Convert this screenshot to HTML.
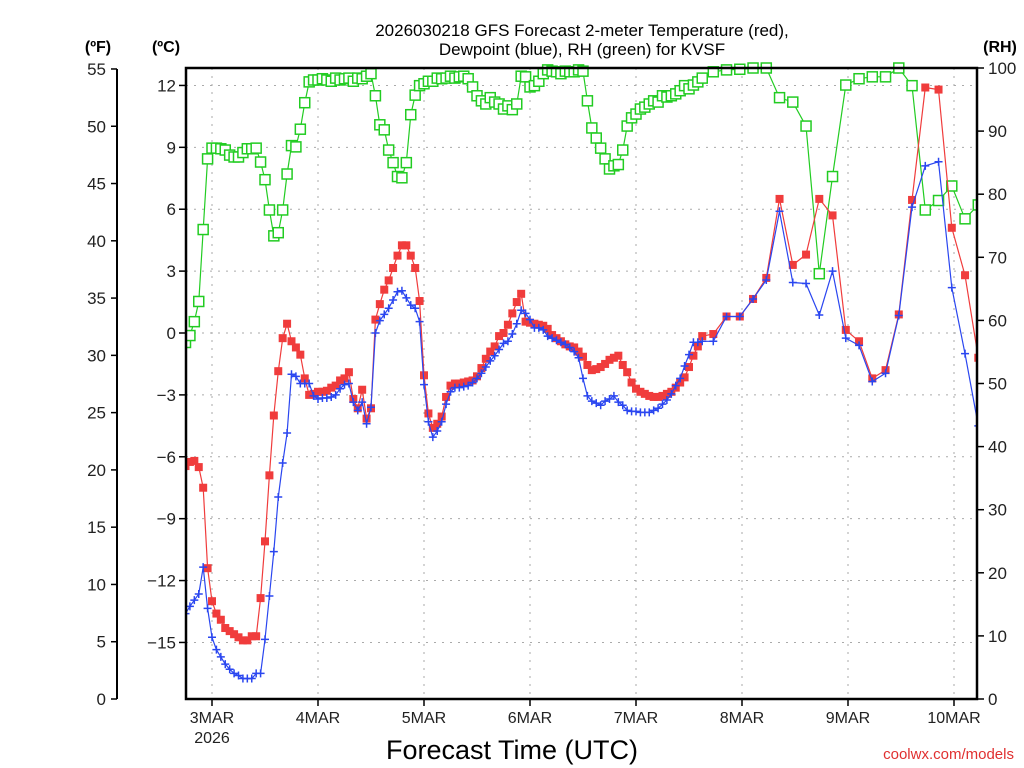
<!DOCTYPE html>
<html><head><meta charset="utf-8"><style>
body{margin:0;background:#fff;}
svg{display:block;font-family:"Liberation Sans",sans-serif;}
</style></head><body>
<svg id="c" width="1024" height="768" viewBox="0 0 1024 768" xmlns="http://www.w3.org/2000/svg">
<text x="582" y="36" font-size="17" text-anchor="middle">2026030218 GFS Forecast 2-meter Temperature (red),</text>
<text x="582" y="55" font-size="17" text-anchor="middle">Dewpoint (blue), RH (green) for KVSF</text>
<text x="98" y="52" font-size="16" font-weight="bold" text-anchor="middle">(ºF)</text>
<text x="166" y="52" font-size="16" font-weight="bold" text-anchor="middle">(ºC)</text>
<text x="1000" y="52" font-size="16" font-weight="bold" text-anchor="middle">(RH)</text>
<text x="512" y="759" font-size="27" text-anchor="middle">Forecast Time (UTC)</text>
<text x="1014" y="759" font-size="15" fill="#e03030" text-anchor="end">coolwx.com/models</text>
<g id="grid"></g><g id="axes"></g><g id="series"></g>
<rect x="186" y="68" width="791" height="631" fill="none" stroke="#000" stroke-width="2.5"/>
</svg>
<script>
// hourly data (hour = index), 0..117
const tempHourly=[-6.45,-6.25,-6.2,-6.5,-7.5,-11.4,-13.0,-13.6,-13.9,-14.3,-14.45,-14.6,-14.75,-14.9,-14.9,-14.7,-14.7,-12.85,-10.1,-6.9,-4.0,-1.85,-0.25,0.45,-0.4,-0.7,-1.05,-2.2,-3.0,-2.95,-2.85,-2.85,-2.8,-2.65,-2.55,-2.3,-2.2,-1.9,-3.2,-3.65,-2.75,-4.15,-3.65,0.65,1.4,2.1,2.55,3.15,3.75,4.25,4.25,3.75,3.15,1.55,-2.05,-3.9,-4.6,-4.4,-4.05,-3.1,-2.55,-2.45,-2.45,-2.4,-2.35,-2.3,-2.1,-1.7,-1.25,-0.9,-0.65,-0.15,0,0.4,0.95,1.5,1.9,0.55,0.5,0.45,0.4,0.35,0.2,-0.1,-0.25,-0.4,-0.55,-0.65,-0.7,-0.9,-1.15,-1.55,-1.8,-1.75,-1.65,-1.5,-1.3,-1.2,-1.1,-1.55,-1.9,-2.4,-2.7,-2.85,-2.95,-3.05,-3.1,-3.1,-3.05,-2.95,-2.85,-2.65,-2.4,-2.15,-1.65,-1.1,-0.65,-0.15];
const dewHourly=[-13.6,-13.25,-12.95,-12.65,-11.35,-13.35,-14.75,-15.35,-15.7,-16.05,-16.3,-16.5,-16.6,-16.75,-16.75,-16.75,-16.5,-16.5,-14.85,-12.75,-10.6,-7.95,-6.3,-4.85,-2.0,-2.1,-2.45,-2.45,-2.45,-3.05,-3.2,-3.15,-3.15,-3.1,-3.0,-2.7,-2.5,-2.45,-3.35,-3.75,-3.35,-4.4,-3.6,0,0.6,0.9,1.2,1.6,2.0,2.05,1.7,1.35,1.2,0.55,-2.5,-4.3,-5.05,-4.75,-4.3,-3.45,-2.85,-2.65,-2.65,-2.6,-2.55,-2.4,-2.2,-1.95,-1.65,-1.35,-1.1,-0.8,-0.5,-0.4,-0.05,0.45,1.1,0.95,0.65,0.25,0.25,0.15,-0.15,-0.25,-0.35,-0.45,-0.55,-0.7,-0.9,-1.2,-2.2,-3.05,-3.3,-3.4,-3.5,-3.3,-3.2,-3.05,-3.35,-3.5,-3.75,-3.8,-3.8,-3.85,-3.85,-3.85,-3.75,-3.65,-3.45,-3.25,-2.95,-2.55,-2.2,-1.6,-1.05,-0.45,-0.45,-0.4];
const rhHourly=[56.5,57.6,59.8,63,74.4,85.6,87.3,87.3,87.2,87,86.2,85.9,85.9,86.6,87.2,87.2,87.3,85.1,82.3,77.5,73.4,73.9,77.5,83.2,87.7,87.5,90.3,94.5,97.8,98.1,98.1,98.3,98.1,97.9,98.4,98.1,98.3,98.4,97.9,98.4,98.3,98.7,99.1,95.6,91,90.2,87,85,82.8,82.6,85,92.6,95.7,97.2,97.5,97.9,97.9,98.4,98.3,98.4,98.7,98.4,98.6,98.7,98.3,97,95.6,94.8,94.3,95.3,94.6,94.3,93.5,94,93.4,94.3,98.7,98.6,97,97.2,97.9,99.1,99.7,99.5,99.4,99.1,99.5,99.4,99.4,99.7,99.5,94.8,90.5,88.9,87.3,85.6,84,84.5,84.7,87,90.8,92.1,92.7,93.5,93.8,94.3,94.8,94.6,95.6,95.4,95.6,95.9,96.4,97.2,96.7,97.3,97.8,98.4];
// 3-hourly data
const hours3=[119.5,122.5,125.5,128.5,131.5,134.5,137.5,140.5,143.5,146.5,149.5,152.5,155.5,158.5,161.5,164.5,167.5,170.5,173.5,176.5,179.5];
const temp3=[-0.05,0.8,0.8,1.65,2.67,6.5,3.3,3.8,6.5,5.7,0.15,-0.4,-2.2,-1.8,0.9,6.45,11.9,11.8,5.1,2.8,-1.2];
const dew3=[-0.4,0.8,0.8,1.65,2.57,5.9,2.45,2.4,0.87,3.0,-0.25,-0.6,-2.35,-1.95,0.85,6.1,8.1,8.3,2.2,-1.0,-4.5];
const rh3=[99.4,99.7,99.8,100,100,95.3,94.6,90.8,67.4,82.8,97.3,98.3,98.6,98.6,100,97.2,77.5,79,81.3,76.1,78.3];
const dayLabels=["3MAR","4MAR","5MAR","6MAR","7MAR","8MAR","9MAR","10MAR"];
const cTicks=[12,9,6,3,0,-3,-6,-9,-12,-15];
const fTicks=[55,50,45,40,35,30,25,20,15,10,5,0];
const rhTicks=[100,90,80,70,60,50,40,30,20,10,0];

const X=h=>185.5+h*106/24;
const YC=c=>333-c*20.63;
const YF=f=>699-f*11.455;
const YR=r=>699-r*6.31;
const NS="http://www.w3.org/2000/svg";
function mk(tag,attrs,parent,txt){const e=document.createElementNS(NS,tag);for(const k in attrs)e.setAttribute(k,attrs[k]);if(txt!==undefined)e.textContent=txt;parent.appendChild(e);return e;}
const grid=document.getElementById('grid'),axes=document.getElementById('axes'),ser=document.getElementById('series');
cTicks.forEach(c=>{
  const y=YC(c);
  const g=mk('line',{x1:186,x2:977,y1:y,y2:y,stroke:'#aaa','stroke-dasharray':'2,6'},grid);
  
  
  const t=mk('line',{x1:179,x2:186,y1:y,y2:y,stroke:'#000','stroke-width':1.5},axes);
  
  
  const l=mk('text',{x:176,y:y+6,'font-size':17,'text-anchor':'end',fill:'#222'},axes,c<0?'\u2212'+(-c):String(c));
  
  
});
mk('line',{x1:117,x2:117,y1:YF(55),y2:699,stroke:'#000','stroke-width':2},axes);
fTicks.forEach(f=>{
  const y=YF(f);
  const t=mk('line',{x1:111,x2:117,y1:y,y2:y,stroke:'#000','stroke-width':1.5},axes);
  
  
  const l=mk('text',{x:106,y:y+6,'font-size':17,'text-anchor':'end',fill:'#222'},axes,String(f));
  
  
});
rhTicks.forEach(r=>{
  const y=YR(r);
  const t=mk('line',{x1:977,x2:984,y1:y,y2:y,stroke:'#000','stroke-width':1.5},axes);
  
  
  const l=mk('text',{x:988,y:y+6,'font-size':17,'text-anchor':'start',fill:'#222'},axes,String(r));
  
  
});
dayLabels.forEach((d,i)=>{
  const x=X(6+24*i);
  const g=mk('line',{x1:x,x2:x,y1:68,y2:699,stroke:'#aaa','stroke-dasharray':'2,6'},grid);
  
  
  const t=mk('line',{x1:x,x2:x,y1:699,y2:706,stroke:'#000','stroke-width':1.5},axes);
  
  
  const l=mk('text',{x:x,y:723,'font-size':16,'text-anchor':'middle',fill:'#222'},axes,d);
  
  
});
const yr=mk('text',{x:X(6),y:743,'font-size':16,'text-anchor':'middle',fill:'#222'},axes,'2026');



const clip=mk('clipPath',{id:'pc'},ser);mk('rect',{x:186,y:62,width:791,height:640},clip);
function series(name,vals,hs,yf,color,marker){
  const g=mk('g',{'clip-path':'url(#pc)'},ser);
  
  
  const pts=vals.map((v,i)=>[X(hs[i]),yf(v)]);
  const p=mk('polyline',{points:pts.map(p=>p[0].toFixed(1)+','+p[1].toFixed(1)).join(' '),fill:'none',stroke:color,'stroke-width':1.2},g);
  
  
  pts.forEach(([x,y])=>{
    let m;
    if(marker==='fill'){m=mk('rect',{x:x-4,y:y-4,width:8,height:8,fill:color},g);}
    else if(marker==='open'){m=mk('rect',{x:x-5,y:y-5,width:10,height:10,fill:'#fff',stroke:color,'stroke-width':1.5},g);}
    else{m=mk('path',{d:`M${x-4},${y}H${x+4}M${x},${y-4}V${y+4}`,stroke:color,'stroke-width':1.5},g);}
    
    
  });
}
const hIdx=tempHourly.map((_,i)=>i);
const allH=hIdx.concat(hours3);
series('rh',rhHourly.concat(rh3),rhHourly.map((_,i)=>i).concat(hours3),YR,'#22cc22','open');
series('temperature',tempHourly.concat(temp3),allH,YC,'#f03c3c','fill');
series('dewpoint',dewHourly.concat(dew3),dewHourly.map((_,i)=>i).concat(hours3),YC,'#2a46f0','plus');
</script>
</body></html>
